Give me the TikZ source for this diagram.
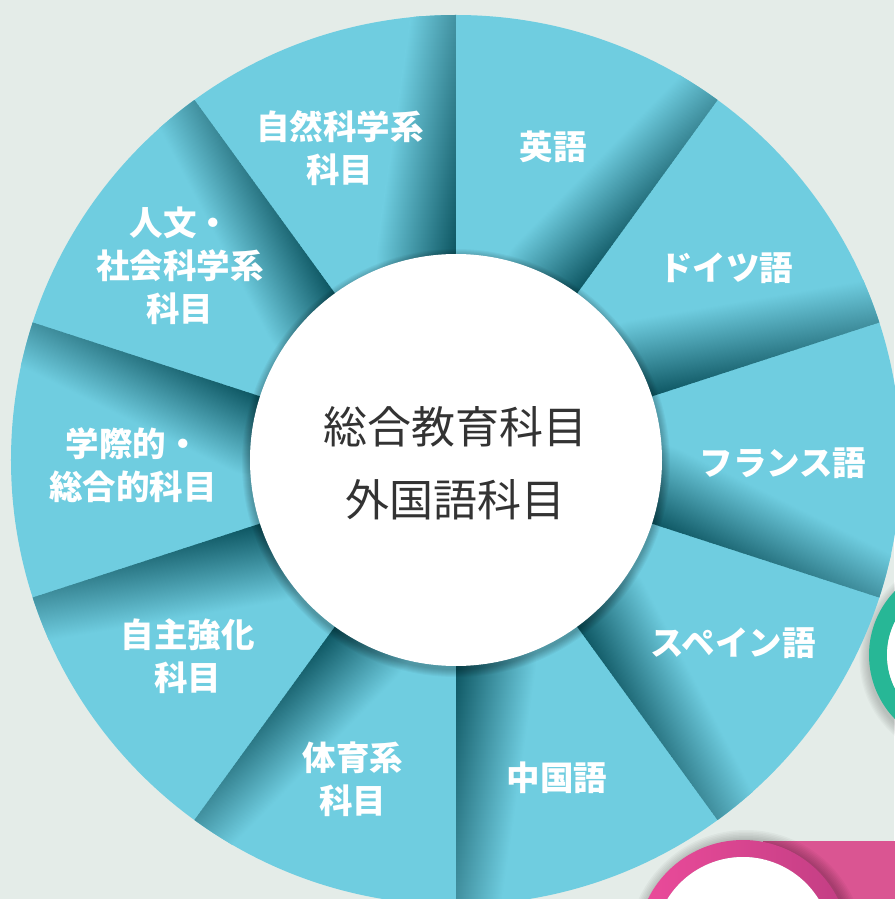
\documentclass[tikz,border=0pt]{standalone}
\usepackage{fontspec}
\newfontfamily\jp{Noto Sans CJK JP}
\definecolor{bg}{HTML}{E4ECE8}
\definecolor{cy}{HTML}{6FCDE0}
\definecolor{dkin}{HTML}{0C5561}
\definecolor{dkout}{HTML}{4291A0}
\definecolor{grn}{HTML}{27B796}
\definecolor{pnk}{HTML}{EC4B9B}
\definecolor{pnkd}{HTML}{C23E83}
\definecolor{pnkr}{HTML}{DA5592}
\definecolor{txt}{HTML}{333333}
\begin{document}
\begin{tikzpicture}[x=1pt,y=1pt,
  lbl/.style={text=white, font=\jp\bfseries\fontsize{33.5}{43}\selectfont, align=center, inner sep=0pt},
  ctr/.style={text=txt, font=\jp\fontsize{44}{73}\selectfont, align=center, inner sep=0pt}]
\useasboundingbox (-456,-439) rectangle (438,460);
\fill[bg] (-456,-439) rectangle (438,460);

% pink element (bottom right)
\fill[pnkr] (307,-381) rectangle (440,-440);
\foreach \i in {1,...,8}{\fill[black,opacity=0.03] (290,-488) circle (106+\i*1.5);}
\shade[left color=pnk, middle color=pnk, right color=pnkd, even odd rule] (287,-486) circle (106) circle (89);
\fill[white] (287,-486) circle (89);

% green element (right)
\foreach \i in {1,...,8}{\fill[black,opacity=0.025] (505,-199) circle (92+\i*1.2);}
\fill[grn, even odd rule] (505,-195) circle (92) circle (74);
\fill[white] (505,-195) circle (74);

% wheel
\fill[cy] (0,0) circle (445);
\foreach \k in {0,...,9}{
  \pgfmathsetmacro\myA{90+36*\k}
  \begin{scope}
    \clip (0,0) circle (445);
    \clip (0,0) -- (\myA:520) -- (\myA+36:520) -- cycle;
    \begin{scope}[transform canvas={rotate=\myA}]
      \foreach \i in {0,...,64}{
        \pgfmathsetmacro\myR{190+4*\i}
        \pgfmathsetmacro\myT{min(100,max(0,(\myR+2-206)/(445-206)*100))}
        \pgfmathsetmacro\myW{80-35*\myT/100}
        \colorlet{dkc}{dkout!\myT!dkin}
        \shade[bottom color=dkc, top color=cy] (\myR,-0.5) rectangle (\myR+5,\myW);
      }
    \end{scope}
  \end{scope}
}

% centre circle
\foreach \i in {1,...,8}{\fill[black,opacity=0.035] (0,-3) circle (206+\i);}
\fill[white] (0,0) circle (206);
\node[ctr] (c) at (0,-3) {総合教育科目\\外国語科目};

% labels
\node[lbl] (s1) at (-116,312) {自然科学系\\科目};
\node[lbl] (s2) at (97,313) {英語};
\node[lbl] (s3) at (270,192) {ドイツ語};
\node[lbl] (s4) at (327,-3) {フランス語};
\node[lbl] (s5) at (277,-183) {スペイン語};
\node[lbl] (s6) at (101,-318) {中国語};
\node[lbl] (s7) at (-103,-319) {体育系\\科目};
\node[lbl] (s8) at (-268,-196) {自主強化\\科目};
\node[lbl] (s9) at (-323,-5) {学際的・\\総合的科目};
\node[lbl] (s10) at (-276,194) {人文・\\社会科学系\\科目};
\end{tikzpicture}
\end{document}
